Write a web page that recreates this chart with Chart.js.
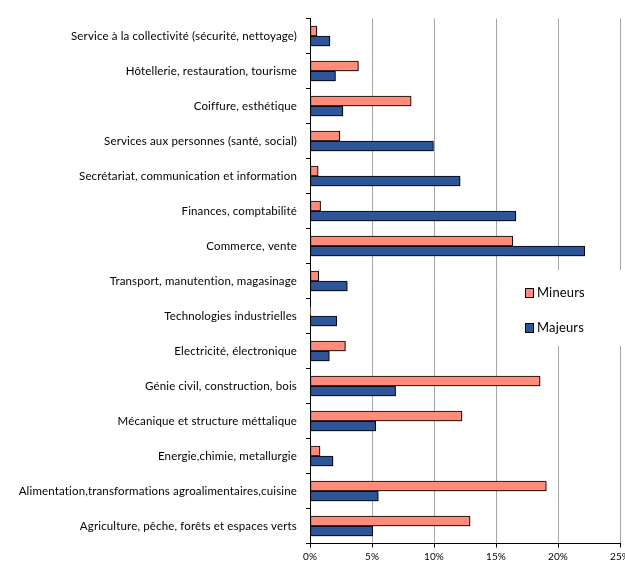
<!DOCTYPE html>
<html>
<head>
<meta charset="utf-8">
<script src="https://cdn.jsdelivr.net/npm/chart.js@4/dist/chart.umd.min.js"></script>
<style>
html,body{margin:0;padding:0;background:#fff;}
#wrap{width:625px;height:561px;position:relative;}
</style>
</head>
<body>
<div id="wrap"><canvas id="c" width="625" height="561"></canvas></div>
<script>
const categories = [
  "Service à la collectivité (sécurité, nettoyage)",
  "Hôtellerie, restauration, tourisme",
  "Coiffure, esthétique",
  "Services aux personnes (santé, social)",
  "Secrétariat, communication et information",
  "Finances, comptabilité",
  "Commerce, vente",
  "Transport, manutention, magasinage",
  "Technologies industrielles",
  "Electricité, électronique",
  "Génie civil, construction, bois",
  "Mécanique et structure méttalique",
  "Energie,chimie, metallurgie",
  "Alimentation,transformations agroalimentaires,cuisine",
  "Agriculture, pêche, forêts et espaces verts"
];
const mineurs = [0.55, 3.9, 8.15, 2.4, 0.65, 0.85, 16.35, 0.7, 0.05, 2.85, 18.55, 12.25, 0.8, 19.05, 12.9];
const majeurs = [1.6, 2.05, 2.65, 9.95, 12.1, 16.6, 22.15, 3.0, 2.15, 1.55, 6.9, 5.3, 1.85, 5.5, 5.05];
const xTicks = [0, 5, 10, 15, 20, 25];

const FONT = "Lato, 'Open Sans', sans-serif";

const spacingPlugin = {
  id: 'spacing',
  beforeDraw(chart) {
    try { chart.ctx.letterSpacing = '0.15px'; } catch (e) {}
  }
};

const shadowPlugin = {
  id: 'barShadow',
  beforeDatasetsDraw(chart) {
    const ctx = chart.ctx;
    ctx.save();
    ctx.shadowColor = 'rgba(0,0,0,0.35)';
    ctx.shadowOffsetX = 1;
    ctx.shadowOffsetY = 1;
    ctx.shadowBlur = 1;
  },
  afterDatasetsDraw(chart) {
    chart.ctx.restore();
  }
};

const legendPlugin = {
  id: 'customLegend',
  afterDraw(chart) {
    const ctx = chart.ctx;
    ctx.save();
    ctx.fillStyle = '#fff';
    ctx.fillRect(515, 270, 110, 76);
    const items = chart.data.datasets;
    const ys = [293, 328];
    items.forEach((ds, i) => {
      const y = ys[i];
      ctx.fillStyle = ds.backgroundColor;
      ctx.fillRect(525.5, y - 4.5, 8, 9);
      ctx.strokeStyle = '#000';
      ctx.lineWidth = 1;
      ctx.strokeRect(525.5, y - 4.5, 8, 9);
      ctx.fillStyle = '#000';
      ctx.font = "13px " + FONT;
      ctx.textBaseline = 'middle';
      ctx.textAlign = 'left';
      ctx.fillText(ds.label, 537, y);
    });
    ctx.restore();
  }
};

new Chart(document.getElementById('c'), {
  type: 'bar',
  data: {
    labels: categories,
    datasets: [
      { label: 'Mineurs', data: mineurs, backgroundColor: '#FF8B7B', borderColor: '#000', borderWidth: 1, borderSkipped: false },
      { label: 'Majeurs', data: majeurs, backgroundColor: '#2E5597', borderColor: '#000', borderWidth: 1, borderSkipped: false }
    ]
  },
  options: {
    indexAxis: 'y',
    responsive: false,
    animation: false,
    devicePixelRatio: 1,
    layout: { padding: { top: 18.5, left: 0, right: 5, bottom: 0 } },
    datasets: { bar: { barThickness: 10 } },
    plugins: { legend: { display: false }, tooltip: { enabled: false } },
    scales: {
      x: {
        min: 0, max: 25,
        afterBuildTicks(scale) { scale.ticks = xTicks.map(v => ({ value: v })); },
        ticks: {
          callback: v => v + '%',
          font: { family: FONT, size: 10 },
          color: '#000',
          padding: 3,
          maxRotation: 0
        },
        grid: { color: '#A6A6A6', tickColor: '#000', tickLength: 4, lineWidth: 1 },
        border: { color: '#000', width: 1 },
        afterFit(scale) { scale.height = 17.5; scale.paddingRight = 0; scale.paddingLeft = 0; }
      },
      y: {
        ticks: {
          font: { family: FONT, size: 11.5 },
          color: '#000',
          padding: 9,
          autoSkip: false
        },
        grid: { offset: true, drawOnChartArea: false, color: '#000', tickLength: 4 },
        border: { color: '#000', width: 1 },
        afterFit(scale) { scale.width = 310; scale.paddingTop = 0; scale.paddingBottom = 0; }
      }
    }
  },
  plugins: [spacingPlugin, shadowPlugin, legendPlugin]
});
</script>
</body>
</html>
